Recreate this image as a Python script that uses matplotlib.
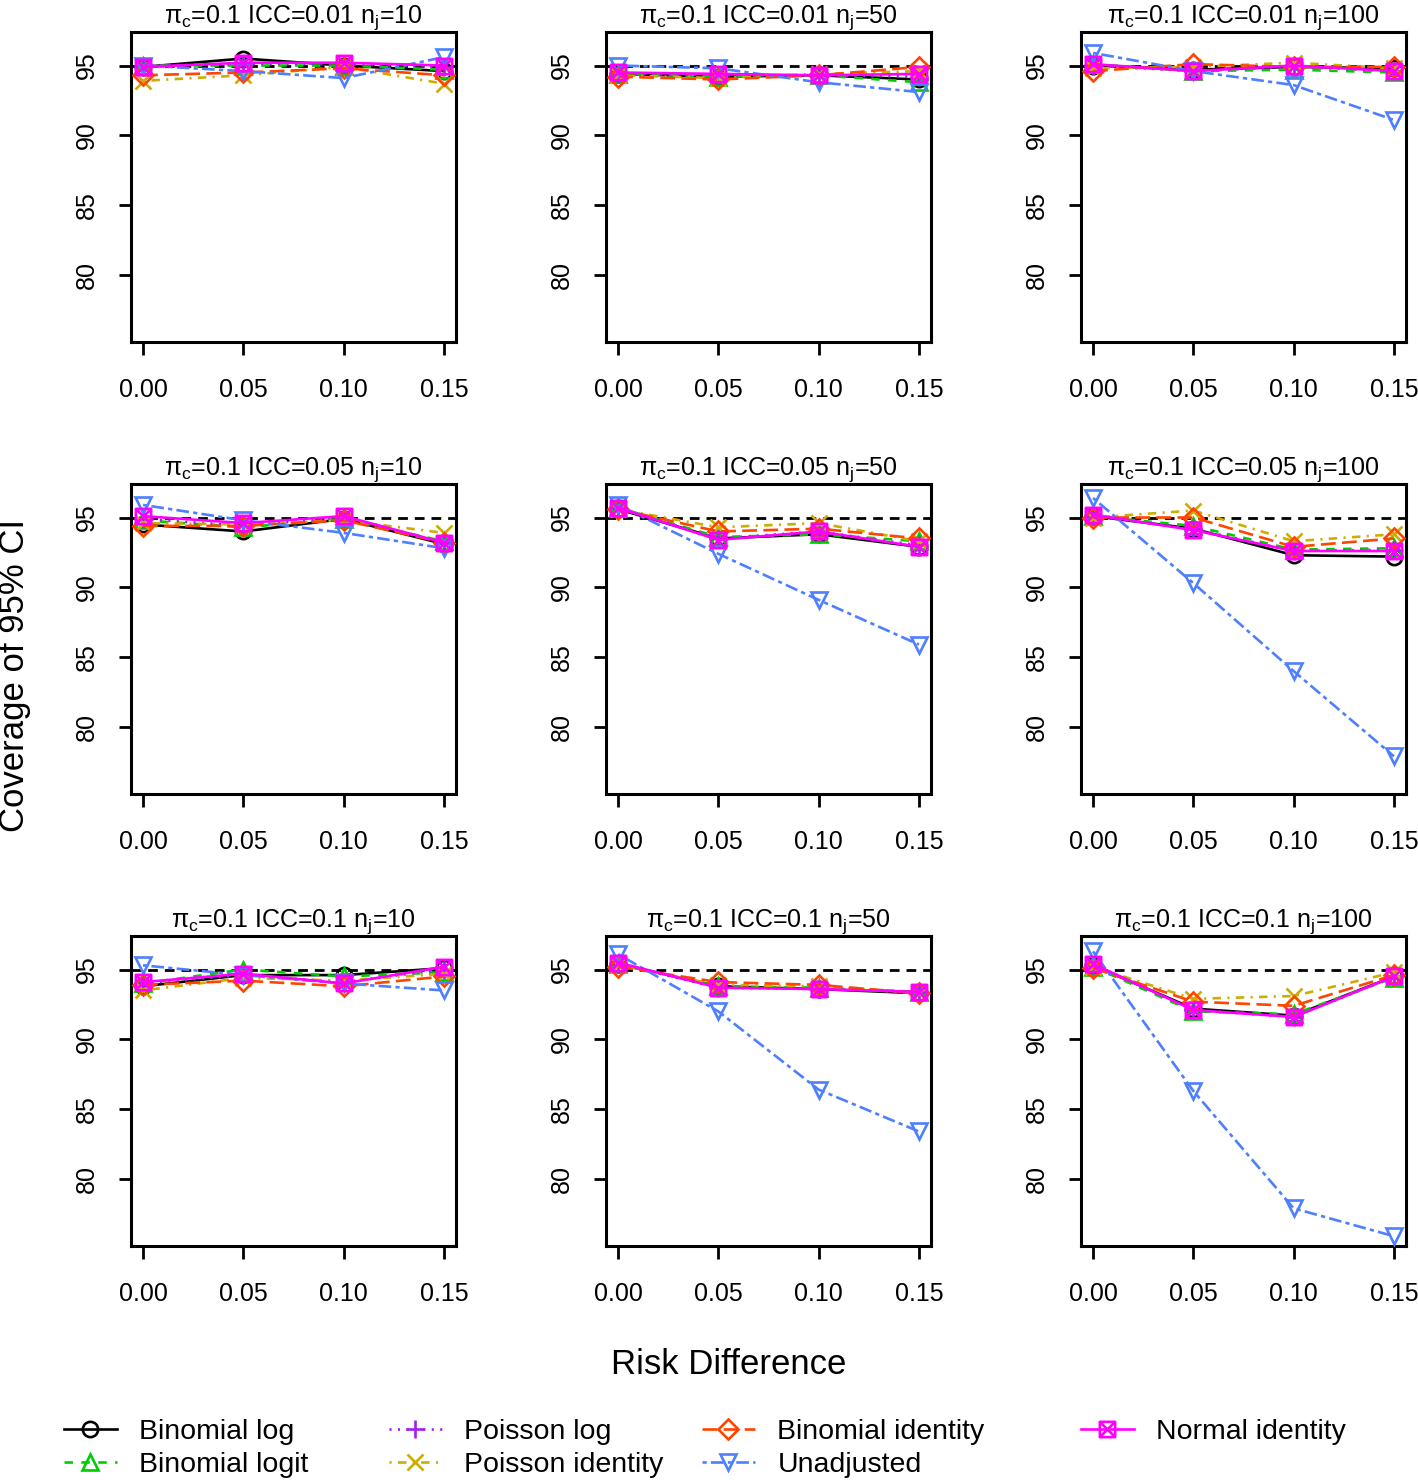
import matplotlib
matplotlib.use("Agg")
import matplotlib.pyplot as plt
from matplotlib.path import Path
from matplotlib.lines import Line2D

plt.rcParams['font.family'] = ['Liberation Sans', 'DejaVu Sans']
plt.rcParams['mathtext.fontset'] = 'custom'
plt.rcParams['mathtext.rm'] = 'Liberation Sans'

# ---------------- data ----------------
risk_diff = [0.00, 0.05, 0.10, 0.15]
x_tick_labels = ["0.00", "0.05", "0.10", "0.15"]
y_ticks = [80, 85, 90, 95]
icc_values = ["0.01", "0.05", "0.1"]
nj_values = ["10", "50", "100"]
pi_c = "0.1"
methods = ["Binomial log", "Binomial logit", "Poisson log", "Poisson identity",
           "Binomial identity", "Unadjusted", "Normal identity"]

# panels ordered: ICC 0.01 (nj 10,50,100), ICC 0.05 (...), ICC 0.1 (...)
binomial_log = [
    [94.9, 95.5, 95.0, 94.6], [94.4, 94.2, 94.3, 94.0], [95.0, 94.7, 94.9, 94.8],
    [94.5, 94.0, 94.9, 93.1], [95.6, 93.5, 93.8, 92.9], [95.1, 94.2, 92.3, 92.2],
    [93.8, 94.6, 94.6, 95.1], [95.4, 93.8, 93.6, 93.3], [95.3, 92.2, 91.7, 94.5]]
binomial_logit = [
    [95.0, 95.0, 95.0, 94.7], [94.4, 94.2, 94.3, 93.8], [95.1, 94.6, 94.7, 94.5],
    [94.8, 94.3, 94.9, 93.3], [95.7, 93.6, 93.8, 93.3], [95.1, 94.4, 92.7, 92.8],
    [94.0, 95.0, 94.5, 94.8], [95.4, 93.8, 93.7, 93.4], [95.2, 92.0, 91.8, 94.4]]
poisson_log = [
    [95.0, 95.1, 95.1, 94.9], [94.4, 94.3, 94.3, 94.2], [95.0, 94.6, 94.9, 94.6],
    [94.9, 94.4, 95.0, 93.2], [95.7, 93.5, 94.0, 93.0], [95.1, 94.2, 92.6, 92.7],
    [94.0, 94.6, 94.1, 95.0], [95.4, 93.7, 93.6, 93.4], [95.3, 92.1, 91.6, 94.5]]
poisson_identity = [
    [93.9, 94.3, 94.9, 93.7], [94.3, 94.1, 94.4, 94.6], [94.8, 94.9, 95.2, 94.8],
    [94.6, 94.5, 94.8, 93.9], [95.6, 94.3, 94.6, 93.3], [95.0, 95.5, 93.3, 93.8],
    [93.5, 94.4, 94.2, 94.7], [95.3, 93.9, 93.8, 93.3], [95.2, 92.9, 93.1, 94.8]]
binomial_identity = [
    [94.3, 94.5, 94.8, 94.3], [94.2, 94.0, 94.3, 94.9], [94.6, 95.1, 94.9, 94.9],
    [94.4, 94.4, 94.8, 93.2], [95.6, 94.0, 94.2, 93.5], [95.0, 95.0, 92.9, 93.5],
    [93.9, 94.2, 93.8, 94.5], [95.2, 94.1, 93.9, 93.3], [95.1, 92.7, 92.4, 94.6]]
unadjusted = [
    [95.0, 94.6, 94.1, 95.6], [95.0, 94.8, 93.8, 93.1], [95.9, 94.6, 93.6, 91.1],
    [95.9, 94.8, 93.9, 92.8], [95.9, 92.4, 89.1, 85.9], [96.4, 90.3, 84.0, 77.9],
    [95.3, 94.6, 94.0, 93.5], [96.1, 92.0, 86.4, 83.4], [96.3, 86.3, 77.9, 75.9]]
normal_identity = [
    [94.9, 95.2, 95.2, 95.0], [94.5, 94.4, 94.3, 94.4], [95.1, 94.6, 95.0, 94.6],
    [95.1, 94.6, 95.1, 93.2], [95.7, 93.4, 94.0, 92.9], [95.2, 94.1, 92.6, 92.6],
    [94.1, 94.7, 94.0, 95.2], [95.5, 93.7, 93.6, 93.4], [95.4, 92.1, 91.6, 94.5]]
series = [binomial_log, binomial_logit, poisson_log, poisson_identity,
          binomial_identity, unadjusted, normal_identity]
target = 95

# ---------------- styles ----------------
sq = Path([(-1, -1), (1, -1), (1, 1), (-1, 1), (-1, -1),
           (-1, -1), (1, 1), (-1, 1), (1, -1)],
          [Path.MOVETO, Path.LINETO, Path.LINETO, Path.LINETO, Path.CLOSEPOLY,
           Path.MOVETO, Path.LINETO, Path.MOVETO, Path.LINETO])
colors = ["black", "#00CD00", "#A020F0", "#CDAD00", "#FF4500", "#4D7FFF", "#FF00FF"]
markers = ["o", "^", "+", "x", "D", "v", sq]
msizes = [11, 12, 13, 11, 10, 12, 11]
u = 0.8
lstyles = ["-", (0, (4*u, 4*u)), (0, (1*u, 3*u)), (0, (1*u, 3*u, 4*u, 3*u)),
           (0, (7*u, 3*u)), (0, (2*u, 2*u, 6*u, 2*u)), "-"]
LW = 1.9

W, H = 1418, 1480
fig = plt.figure(figsize=(W/100, H/100), dpi=100)

col_left = [131, 606, 1081]
row_top = [32, 484, 936]
aw, ah = 325, 310
FS = 18

for r in range(3):
    for c in range(3):
        k = r*3 + c
        ax = fig.add_axes([col_left[c]/W, 1 - (row_top[r]+ah)/H, aw/W, ah/H])
        ax.axhline(target, color="black", lw=2, ls=(0, (3.5, 2.5)), zorder=1)
        for i, s in enumerate(series):
            ax.plot(risk_diff, s[k], color=colors[i], ls=lstyles[i], lw=LW,
                    marker=markers[i], ms=msizes[i], mfc="none", mec=colors[i],
                    mew=1.9, zorder=2+i)
        ax.set_xlim(-0.006, 0.156)
        ax.set_ylim(75.2, 97.4)
        ax.set_xticks(risk_diff)
        ax.set_xticklabels(x_tick_labels)
        ax.set_yticks(y_ticks)
        ax.set_yticklabels([str(v) for v in y_ticks], rotation=90, va="center")
        ax.tick_params(axis="x", length=9, width=2, labelsize=FS, pad=17, color="black")
        ax.tick_params(axis="y", length=9, width=2, labelsize=FS, pad=14, color="black")
        for sp in ax.spines.values():
            sp.set_linewidth(2.2)
        ax.set_title(r"π$_\mathregular{c}$=" + pi_c + " ICC=" + icc_values[r] +
                     r" n$_\mathregular{j}$=" + nj_values[c], fontsize=FS, pad=5)

fig.text(15/W, 1 - 675/H, "Coverage of 95% CI", rotation=90, fontsize=25,
         ha="center", va="center")
fig.text(729/W, 1 - 1364/H, "Risk Difference", fontsize=25, ha="center", va="center")

handles = [Line2D([], [], color=colors[i], ls=lstyles[i], lw=LW, marker=markers[i],
                  ms=msizes[i], mfc="none", mec=colors[i], mew=1.9)
           for i in range(len(methods))]
groups = [[0, 1], [2, 3], [4, 5], [6]]
leg_x = [64, 389, 702, 1081]
for g, lx in zip(groups, leg_x):
    fig.legend([handles[i] for i in g], [methods[i] for i in g],
               loc="upper left", bbox_to_anchor=(lx/W, 1 - 1419/H),
               frameon=False, fontsize=20.5, handlelength=1.85, handletextpad=0.8,
               labelspacing=0.23, borderpad=0, borderaxespad=0)

fig.savefig("out.png", dpi=100)
